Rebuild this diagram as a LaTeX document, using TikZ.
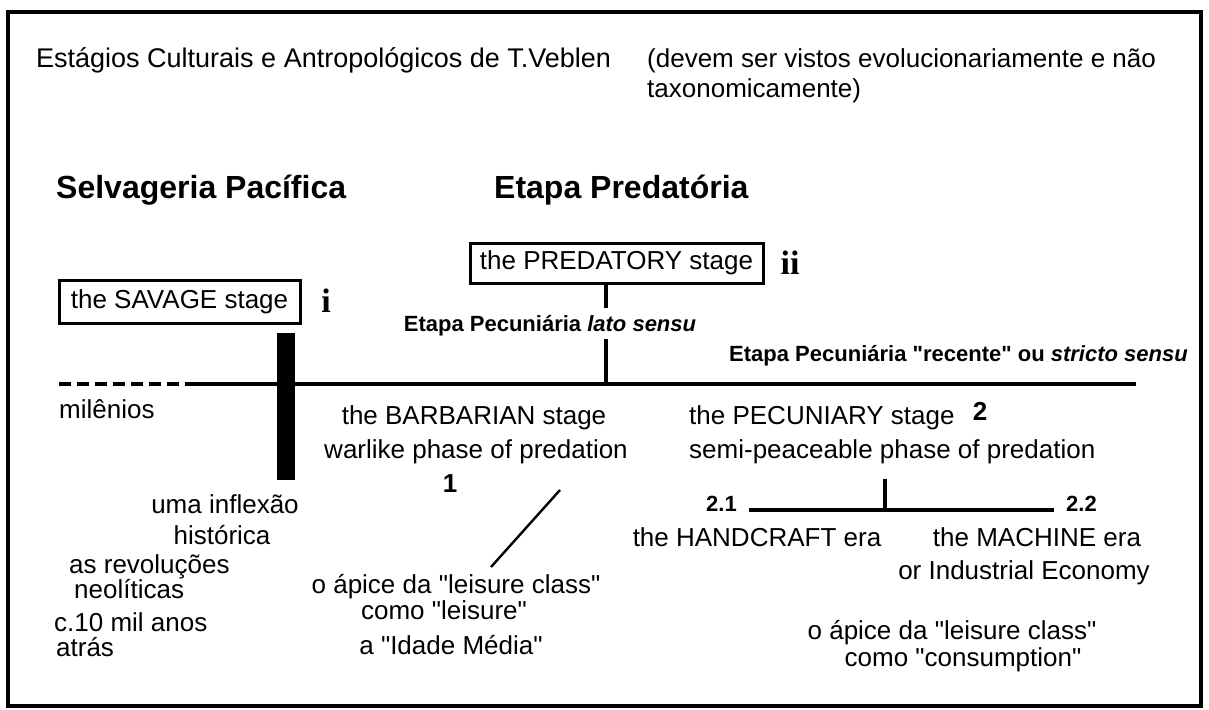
\documentclass[tikz,border=0pt]{standalone}
\usepackage{fontspec}
\setmainfont{Liberation Sans}[Ligatures=TeXOff]
\newfontfamily\romanfont{Liberation Serif}
\tikzset{
  txt/.style={font=\fontsize{26}{30}\selectfont, inner sep=0pt, text height=19pt, text depth=5.5pt},
  lbl/.style={font=\fontsize{22}{26}\selectfont\bfseries, inner sep=0pt, text height=16pt, text depth=4.5pt},
  head/.style={font=\fontsize{32}{38}\selectfont\bfseries, inner sep=0pt},
  stagebox/.style={draw, line width=3pt, font=\fontsize{26}{30}\selectfont, inner sep=0pt, text height=19pt, text depth=5.5pt},
  numeral/.style={font=\fontsize{34}{40}\selectfont\romanfont\bfseries, inner sep=0pt},
  tline/.style={line width=3.6pt},
  forkline/.style={line width=4pt},
}
\begin{document}
\begin{tikzpicture}[x=1pt,y=-1pt]
\useasboundingbox (0,0) rectangle (1209,709);
\draw[line width=4pt] (8,12) rectangle (1201,706);

% title
\node[txt, font=\fontsize{27}{30}\selectfont, anchor=west] (title) at (36,61) {Estágios Culturais e Antropológicos de T.Veblen};
\node[txt, anchor=west] (note) at (647,61) {(devem ser vistos evolucionariamente e não};
\node[txt, anchor=west] (note2) at (647,91) {taxonomicamente)};

% headings
\node[head, anchor=west] (selvageria) at (56,190) {Selvageria Pacífica};
\node[head, anchor=west] (predatoria) at (494,190) {Etapa Predatória};

% stages
\node[stagebox, minimum width=241pt, minimum height=43pt] (savage) at (179.5,301.5) {the SAVAGE stage};
\node[numeral] (i) at (326,301) {i};
\node[stagebox, minimum width=293pt, minimum height=40pt] (predatory) at (616.5,263) {the PREDATORY stage};
\node[numeral] (ii) at (790,263) {ii};
\node[lbl] (lato) at (550,326) {Etapa Pecuniária \textit{lato sensu}};
\node[lbl, anchor=east] (recente) at (1188,356) {Etapa Pecuniária "recente" ou \textit{stricto sensu}};

% timeline
\coordinate (tl-start) at (59,384);
\coordinate (tl-mid) at (185,384);
\coordinate (tl-end) at (1136,384);
\coordinate (cross) at (606,384);
\draw[tline, dash pattern=on 12pt off 6pt] (tl-start) -- (tl-mid);
\draw[tline] (tl-mid) -- (tl-end);
\draw[tline, shorten >=8pt] (predatory.south -| cross) -- (lato.north -| cross);
\draw[tline, shorten <=3pt] (lato.south -| cross) -- (cross);
\node[fill, inner sep=0pt, minimum width=18pt, minimum height=147pt] (inflexao) at (286,406.5) {};
\node[txt, anchor=west] (milenios) at (59,412) {milênios};

% savage side
\node[txt] (uma) at (225,507) {uma inflexão};
\node[txt] (historica) at (222,538) {histórica};
\node[txt, anchor=west] (revolucoes) at (69,567) {as revoluções};
\node[txt, anchor=west] (neoliticas) at (74,592) {neolíticas};
\node[txt, anchor=west] (anos) at (54,625) {c.10 mil anos};
\node[txt, anchor=west] (atras) at (56,650) {atrás};

% barbarian stage
\node[txt] (barbarian) at (474,418) {the BARBARIAN stage};
\node[txt] (warlike) at (476,452) {warlike phase of predation};
\node[lbl, font=\fontsize{26}{30}\selectfont\bfseries] (one) at (450,487) {1};
\coordinate (diag-top) at (560,490);
\coordinate (diag-bot) at (491,567);
\draw[line width=2.4pt] (diag-top) -- (diag-bot);
\node[txt] (apice) at (456,587) {o ápice da "leisure class"};
\node[txt] (leisure) at (444,613) {como "leisure"};
\node[txt] (media) at (451,648) {a "Idade Média"};

% pecuniary stage
\node[txt, anchor=west] (pecuniary) at (689,418) {the PECUNIARY stage};
\node[lbl, font=\fontsize{26}{30}\selectfont\bfseries] (two) at (980,415) {2};
\node[txt, anchor=west] (semi) at (689,452) {semi-peaceable phase of predation};
\coordinate (fork) at (885,510);
\node[lbl, anchor=east] (n21) at (737,506) {2.1};
\node[lbl, anchor=west] (n22) at (1066,506) {2.2};
\draw[forkline, shorten <=15pt] (semi.south -| fork) -- (fork);
\draw[forkline] ([xshift=12pt]n21.east |- fork) -- ([xshift=-12pt]n22.west |- fork);
\node[txt] (handcraft) at (757,540) {the HANDCRAFT era};
\node[txt] (machine) at (1037,540) {the MACHINE era};
\node[txt] (industrial) at (1024,573) {or Industrial Economy};
\node[txt] (apice2) at (952,633) {o ápice da "leisure class"};
\node[txt] (consumption) at (963,660) {como "consumption"};
\end{tikzpicture}
\end{document}
